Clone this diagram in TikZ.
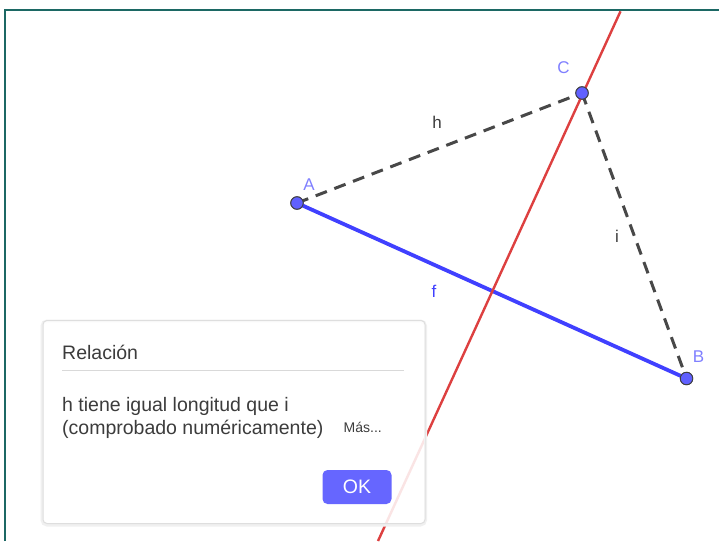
\documentclass[tikz,border=0pt]{standalone}
\usepackage{fontspec}
\setmainfont{Liberation Sans}
\usetikzlibrary{positioning}
\definecolor{ptcol}{RGB}{96, 96, 255}
\definecolor{segcol}{RGB}{64, 64, 255}
\definecolor{lblcol}{RGB}{128, 128, 255}
\definecolor{bisecol}{RGB}{221, 64, 64}
\definecolor{dashcol}{RGB}{72, 72, 72}
\definecolor{txtcol}{RGB}{60, 60, 60}
\definecolor{framecol}{RGB}{28, 104, 100}
\definecolor{okcol}{RGB}{102, 102, 255}
\tikzset{
  pt/.style={circle, draw=black!75, fill=ptcol, line width=0.9pt, inner sep=0pt,
             minimum size=12.5pt},
  ptlabel/.style={text=lblcol, font=\fontsize{17}{17}\selectfont, inner sep=0pt},
  seglabel/.style={text=txtcol, font=\fontsize{17}{17}\selectfont, inner sep=0pt},
  hidden/.style={dash pattern=on 12pt off 8pt, line width=3pt, draw=dashcol},
  dialogtxt/.style={text=txtcol, font=\fontsize{19.5}{24}\selectfont, inner sep=0pt,
                    anchor=base west},
}

\begin{document}
\begin{tikzpicture}[x=1pt, y=-1pt]
  \useasboundingbox (0,0) rectangle (719,541);
  \fill[white] (0,0) rectangle (719,541);
  \draw[framecol, line width=2pt] (5.3,541) -- (5.3,10.3) -- (719,10.3);

  % points
  \node[pt] (A) at (297,203) {};
  \node[pt] (B) at (686.5,378.5) {};
  \node[pt] (C) at (582,93) {};
  \coordinate (top) at (620.5,11.3);
  \coordinate (bot) at (378,541);

  \draw[segcol, line width=3.8pt] (A.center) -- (B.center);
  \draw[bisecol, line width=2.4pt] (top) -- (bot);
  \draw[hidden] (A.center) -- (C.center);
  \draw[hidden] (C.center) -- (B.center);
  \node[pt] at (A) {};
  \node[pt] at (B) {};
  \node[pt] at (C) {};

  \node[ptlabel] (lA) at (309,185) {A};
  \node[ptlabel] (lB) at (698.5,357) {B};
  \node[ptlabel] (lC) at (563.5,68) {C};
  \node[seglabel] (lh) at (437,122) {h};
  \node[seglabel] (li) at (617,236) {i};
  \node[seglabel, text=segcol] (lf) at (434,291) {f};

  % dialog
  \draw[black!6, line width=3pt, rounded corners=5pt] (42,321) rectangle (425.5,525);
  \node[draw=black!13, fill=white, fill opacity=0.86, rounded corners=4pt, line width=1pt,
        minimum width=382pt, minimum height=203pt, anchor=north west] (dlg) at (42.5,320) {};
  \node[dialogtxt] (title) at (62,359) {Relación};
  \draw[black!15, line width=0.9pt] (62,370) -- (404,370);
  \node[dialogtxt] (msg1) at (62,411.5) {h tiene igual longitud que i};
  \node[dialogtxt] (msg2) at (62,434.5) {(comprobado numéricamente)};
  \node[dialogtxt, font=\fontsize{14}{16}\selectfont] (mas) at (343.5,432) {Más...};
  \node[fill=okcol, rounded corners=5pt, minimum width=69pt, minimum height=34pt,
        text=white, font=\fontsize{19.5}{20}\selectfont, inner sep=0pt] (ok) at (357,487) {OK};
\end{tikzpicture}
\end{document}
